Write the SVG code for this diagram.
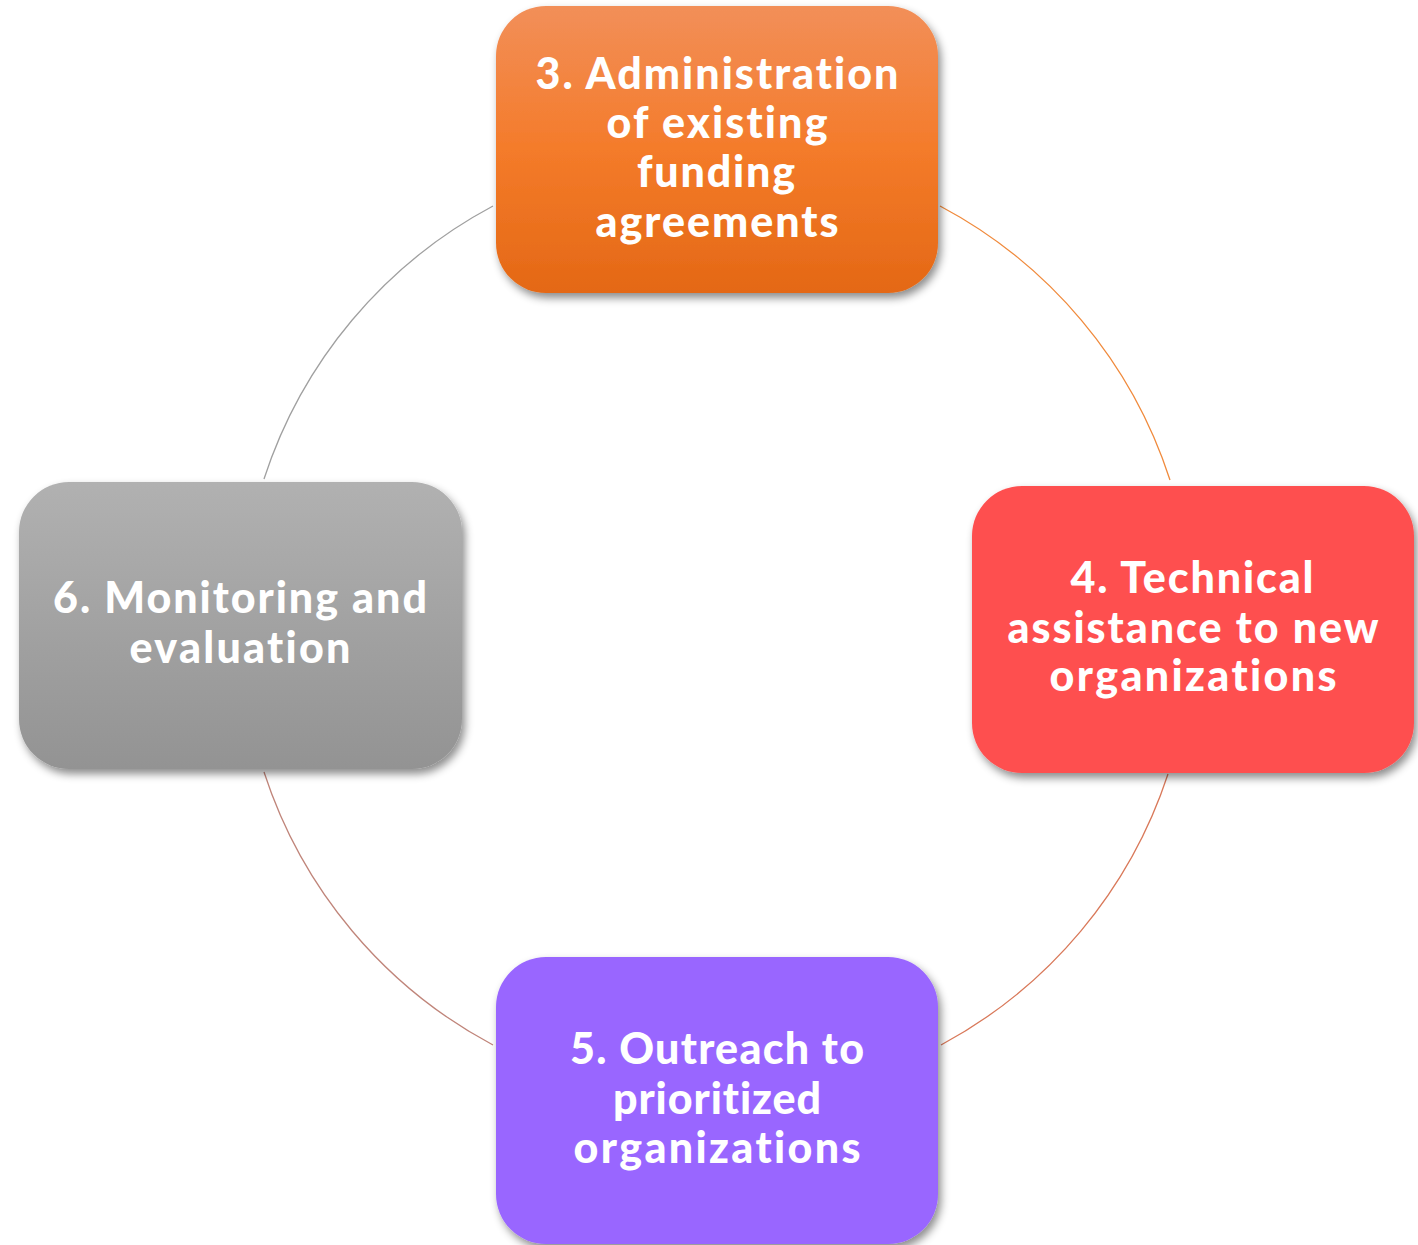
<svg xmlns="http://www.w3.org/2000/svg" width="1418" height="1245" viewBox="0 0 1418 1245">
<defs>
<linearGradient id="gOrange" x1="0" y1="0" x2="0" y2="1">
<stop offset="0" stop-color="#F28F59"/>
<stop offset="0.5" stop-color="#F47B2A"/>
<stop offset="1" stop-color="#E46815"/>
</linearGradient>
<linearGradient id="gGray" x1="0" y1="0" x2="0" y2="1">
<stop offset="0" stop-color="#B1B1B1"/>
<stop offset="1" stop-color="#939393"/>
</linearGradient>
<filter id="shadow" x="-10%" y="-10%" width="125%" height="130%">
<feDropShadow dx="3" dy="5" stdDeviation="4" flood-color="#000" flood-opacity="0.45"/>
</filter>
</defs>
<style>
.box{filter:url(#shadow);}
.lbl{font-family:Lato,"Open Sans","Liberation Sans",sans-serif;font-weight:900;font-size:43px;fill:#FFFFFF;text-anchor:middle;font-variant-ligatures:none;font-feature-settings:"liga" 0;}
.arc{fill:none;stroke-width:1.3;}
</style>
<rect width="1418" height="1245" fill="#FFFFFF"/>
<g id="connectors">
<path class="arc" stroke="#F08A3C" d="M 940 206 A 476 476 0 0 1 1170 480"/>
<path class="arc" stroke="#D9795A" d="M 1168 774 A 476 476 0 0 1 941 1045"/>
<path class="arc" stroke="#C0857A" d="M 493 1045 A 476 476 0 0 1 264 772"/>
<path class="arc" stroke="#A0A0A0" d="M 264 479 A 476 476 0 0 1 493 206"/>
</g>
<g id="node3">
<rect class="box" x="496" y="6" width="442" height="287" rx="50" fill="url(#gOrange)"/>
<text class="lbl" x="717" y="89" textLength="363">3. Administration</text>
<text class="lbl" x="717" y="138" textLength="221">of existing</text>
<text class="lbl" x="716" y="187" textLength="158">funding</text>
<text class="lbl" x="717" y="237" textLength="243">agreements</text>
</g>
<g id="node4">
<rect class="box" x="972" y="486" width="442" height="287" rx="50" fill="#FE5050"/>
<text class="lbl" x="1192" y="593" textLength="243">4. Technical</text>
<text class="lbl" x="1193" y="643" textLength="371">assistance to new</text>
<text class="lbl" x="1193" y="691" textLength="287">organizations</text>
</g>
<g id="node5">
<rect class="box" x="496" y="957" width="442" height="287" rx="50" fill="#9966FF"/>
<text class="lbl" x="717" y="1064" textLength="294">5. Outreach to</text>
<text class="lbl" x="717" y="1114" textLength="208">prioritized</text>
<text class="lbl" x="717" y="1163" textLength="287">organizations</text>
</g>
<g id="node6">
<rect class="box" x="19" y="482" width="443" height="287" rx="50" fill="url(#gGray)"/>
<text class="lbl" x="240" y="613" textLength="374">6. Monitoring and</text>
<text class="lbl" x="240" y="663" textLength="221">evaluation</text>
</g>
</svg>
